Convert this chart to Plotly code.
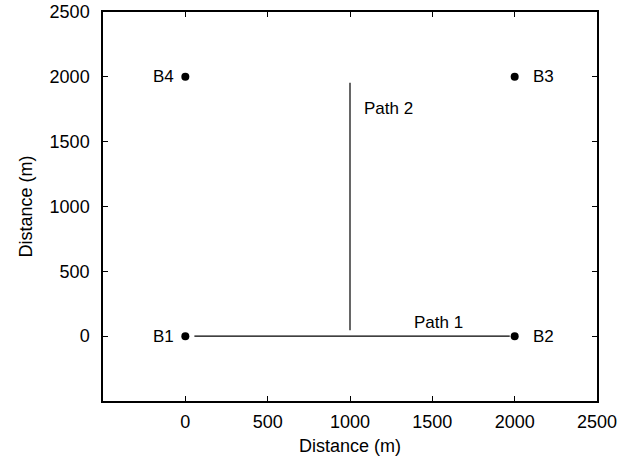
import plotly.graph_objects as go

# Data
buoy_names = ["B1", "B2", "B3", "B4"]
buoy_x = [0, 2000, 2000, 0]
buoy_y = [0, 0, 2000, 2000]
buoy_label_side = ["left", "right", "right", "left"]

path1_x = [55, 1970]
path1_y = [0, 0]
path2_x = [1000, 1000]
path2_y = [45, 1955]

path_labels = ["Path 1", "Path 2"]
path_label_x = [1535, 1075]
path_label_y = [108, 1753]
path_label_anchor = ["center", "left"]

tick_vals = [0, 500, 1000, 1500, 2000, 2500]

font_family = "Liberation Sans, Arial, sans-serif"
tick_size = 18
label_size = 17

fig = go.Figure()
fig.add_trace(go.Scatter(x=path1_x, y=path1_y, mode="lines",
                         line=dict(color="black", width=1.2), showlegend=False))
fig.add_trace(go.Scatter(x=path2_x, y=path2_y, mode="lines",
                         line=dict(color="black", width=1.2), showlegend=False))
fig.add_trace(go.Scatter(x=buoy_x, y=buoy_y, mode="markers",
                         marker=dict(color="black", size=8),
                         showlegend=False))

for name, bx, by, side in zip(buoy_names, buoy_x, buoy_y, buoy_label_side):
    fig.add_annotation(x=bx, y=by, text=name, showarrow=False,
                       xanchor="right" if side == "left" else "left",
                       xshift=-9 if side == "left" else 16,
                       font=dict(size=label_size, color="black", family=font_family))

for txt, px, py, anc in zip(path_labels, path_label_x, path_label_y, path_label_anchor):
    fig.add_annotation(x=px, y=py, text=txt, showarrow=False, xanchor=anc,
                       font=dict(size=label_size, color="black", family=font_family))

axis_common = dict(
    range=[-500, 2500], tickvals=tick_vals, showgrid=False, zeroline=False,
    showline=True, linecolor="black", linewidth=1.5, mirror="allticks",
    ticks="inside", ticklen=5, tickcolor="black", automargin=False,
    tickfont=dict(size=tick_size, color="black", family=font_family),
)
fig.update_xaxes(**axis_common, ticklabelstandoff=4,
                 title=dict(text="Distance (m)", font=dict(size=tick_size, color="black", family=font_family), standoff=8))
fig.update_yaxes(**axis_common, ticklabelstandoff=8,
                 title=dict(text="Distance (m)", font=dict(size=tick_size, color="black", family=font_family), standoff=12))

fig.update_layout(
    width=644, height=466,
    margin=dict(l=103, r=47, t=12, b=65),
    plot_bgcolor="white", paper_bgcolor="white",
    font=dict(family=font_family, color="black"),
)

fig.write_html("out.html", config={"displayModeBar": False},
               post_script="document.body.style.margin='0';")
